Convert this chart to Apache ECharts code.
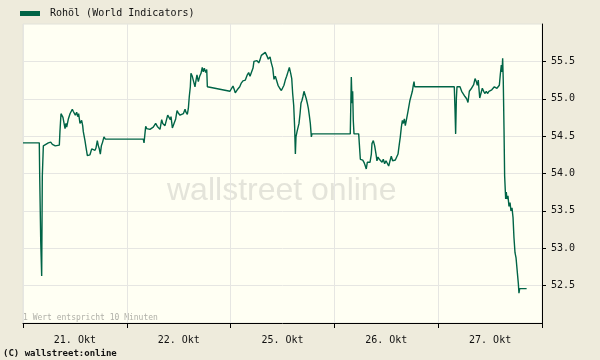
<!DOCTYPE html>
<html>
<head>
<meta charset="utf-8">
<script src="https://cdn.jsdelivr.net/npm/echarts@6/dist/echarts.min.js"></script>
<style>
html,body{margin:0;padding:0;background:#EEEBDC;}
#chart{width:600px;height:360px;}
</style>
</head>
<body>
<div id="chart"></div>
<script>
// Trading days (x-axis labels)
var days = ['21. Okt', '22. Okt', '25. Okt', '26. Okt', '27. Okt'];
// Y-axis tick labels
var yTicks = [52.5, 53.0, 53.5, 54.0, 54.5, 55.0, 55.5];
// Time position in trading days (0 = start of 21. Okt, 1 = start of 22. Okt, ...)
var times = [
 0.000,0.157,0.161,0.170,0.171,0.177,0.180,0.186,0.196,0.212,0.244,0.267,0.283,0.292,0.311,0.350,
 0.356,0.366,0.376,0.385,0.392,0.405,0.414,0.421,0.437,0.453,0.475,0.485,0.504,0.517,0.527,0.536,
 0.549,0.565,0.575,0.581,0.597,0.607,0.620,0.645,0.662,0.678,0.694,0.703,0.716,0.726,0.735,0.745,
 0.755,0.767,0.780,0.793,
 1.159,1.166,1.182,1.192,1.223,1.255,1.278,1.294,1.307,1.320,1.336,1.346,1.358,1.368,1.381,1.394,
 1.407,1.419,1.426,1.439,1.458,1.471,1.484,1.496,1.513,1.529,1.545,1.561,1.570,1.583,1.593,1.602,
 1.612,1.618,1.631,1.644,1.657,1.667,1.676,1.689,1.702,1.715,1.727,1.737,1.747,1.760,1.770,1.776,
 1.994,2.010,2.023,2.036,2.045,2.064,2.088,2.103,2.119,2.142,2.161,2.174,2.187,2.199,2.216,2.225,
 2.242,2.254,2.271,2.283,2.296,2.315,2.334,2.351,2.363,2.380,2.392,2.406,2.418,2.431,2.444,2.457,
 2.473,2.489,2.502,2.514,2.527,2.540,2.553,2.566,2.579,2.589,2.598,2.608,2.617,2.624,2.630,2.640,
 2.649,2.659,2.669,2.678,2.688,2.697,2.707,2.720,2.729,2.739,2.749,2.758,2.768,2.778,2.784,
 3.153,3.163,3.170,3.176,3.182,3.189,3.234,3.240,3.250,3.273,3.285,3.298,3.307,3.317,3.330,3.343,
 3.356,3.362,3.375,3.388,3.401,3.410,3.420,3.433,3.446,3.459,3.471,3.484,3.497,3.510,3.523,3.536,
 3.548,3.561,3.574,3.587,3.603,3.613,3.626,3.635,3.645,3.655,3.664,3.674,3.683,3.693,3.703,3.709,
 3.719,3.728,3.741,3.751,3.760,3.767,3.773,
 4.155,4.162,4.168,4.175,4.181,4.210,4.226,4.242,4.258,4.274,4.287,4.300,4.316,4.329,4.342,4.355,
 4.367,4.377,4.386,4.400,4.412,4.425,4.438,4.451,4.463,4.477,4.489,4.502,4.516,4.531,4.541,4.554,
 4.566,4.579,4.589,4.598,4.608,4.615,4.621,4.627,4.634,4.640,4.650,4.656,4.662,4.672,4.682,4.692,
 4.701,4.711,4.721,4.730,4.740,4.750,4.759,4.766,4.772,4.778,4.785,4.852
];
// Rohöl price (USD)
var prices = [
 54.41,54.41,53.96,53.96,53.08,53.08,52.63,53.96,54.37,54.38,54.41,54.42,54.39,54.41,54.37,54.38,
 54.56,54.80,54.78,54.75,54.73,54.60,54.67,54.62,54.73,54.80,54.86,54.83,54.78,54.82,54.76,54.80,
 54.67,54.71,54.64,54.56,54.44,54.35,54.24,54.25,54.33,54.31,54.31,54.34,54.44,54.37,54.33,54.26,
 54.37,54.42,54.49,54.46,
 54.46,54.41,54.63,54.60,54.59,54.62,54.67,54.63,54.62,54.59,54.72,54.67,54.69,54.64,54.71,54.78,
 54.80,54.72,54.76,54.61,54.62,54.73,54.84,54.81,54.78,54.76,54.80,54.86,54.82,54.79,54.87,55.03,
 55.16,55.34,55.30,55.23,55.16,55.25,55.32,55.23,55.30,55.34,55.42,55.36,55.41,55.35,55.39,55.16,
 55.10,55.14,55.17,55.12,55.08,55.12,55.16,55.21,55.24,55.25,55.32,55.35,55.30,55.32,55.41,55.50,
 55.48,55.51,55.48,55.52,55.58,55.59,55.62,55.57,55.53,55.56,55.48,55.41,55.26,55.30,55.24,55.18,
 55.14,55.11,55.10,55.18,55.25,55.30,55.36,55.42,55.34,55.27,55.07,54.91,54.62,54.26,54.49,54.56,
 54.58,54.67,54.80,54.94,54.98,55.03,55.10,55.10,55.00,54.94,54.87,54.78,54.67,54.49,54.53,
 54.53,55.29,54.94,55.10,54.71,54.53,54.53,54.40,54.19,54.18,54.15,54.10,54.06,54.15,54.13,54.15,
 54.26,54.40,54.44,54.37,54.26,54.17,54.22,54.19,54.18,54.15,54.19,54.13,54.17,54.15,54.10,54.17,
 54.23,54.17,54.19,54.18,54.18,54.26,54.40,54.49,54.62,54.71,54.67,54.73,54.64,54.71,54.69,54.83,
 54.85,54.98,55.00,55.10,55.18,55.23,55.16,
 55.16,54.85,54.53,55.00,55.16,55.16,55.10,55.10,55.03,55.00,54.95,55.10,55.13,55.15,55.19,55.27,
 55.23,55.18,55.25,55.01,55.03,55.14,55.10,55.07,55.10,55.07,55.10,55.10,55.12,55.10,55.16,55.18,
 55.14,55.12,55.18,55.32,55.45,55.36,55.54,55.23,54.60,53.97,53.66,53.75,53.66,53.70,53.56,53.61,
 53.50,53.54,53.41,53.14,52.94,52.87,52.89,52.62,52.53,52.40,52.46,52.46
];
var seriesName = 'Rohöl (World Indicators)';
var yMin = 52.0, yMax = 56.0, yStep = 0.5;

var lineData = times.map(function (t, i) { return [t, prices[i]]; });
var mono = '"DejaVu Sans Mono", "Liberation Mono", monospace';
var lineColor = '#006446';

var chart = echarts.init(document.getElementById('chart'), null, {renderer: 'canvas'});
chart.setOption({
  animation: false,
  backgroundColor: '#EEEBDC',
  grid: {
    left: 23, right: 58, top: 24, bottom: 37,
    show: true, backgroundColor: '#FFFFF3', borderColor: '#E2E2DA', borderWidth: 1
  },
  graphic: [
    {type: 'rect', left: 20, top: 11, shape: {width: 20, height: 5}, style: {fill: lineColor}},
    {type: 'text', left: 50, top: 8, style: {text: seriesName, font: '10px ' + mono, fill: '#111'}},
    {type: 'text', left: 23, top: 314, style: {text: '1 Wert entspricht 10 Minuten', font: '8px ' + mono, fill: '#B0B0A8'}},
    {type: 'text', left: 3, top: 349, style: {text: '(C) wallstreet:online', font: 'bold 9px ' + mono, fill: '#111'}},
    {type: 'text', left: 167, top: 175, z: 0, style: {text: 'wallstreet online', font: '32px "Liberation Sans", Arial, sans-serif', fill: '#E4E4DA'}}
  ],
  xAxis: [
    {
      type: 'value', min: 0, max: days.length, interval: 1,
      position: 'bottom',
      axisLine: {show: true, onZero: false, lineStyle: {color: '#000', width: 1}},
      axisTick: {show: true, length: 5, lineStyle: {color: '#000'}},
      axisLabel: {show: false},
      splitLine: {show: true, lineStyle: {color: '#E6E6E2', width: 1}}
    },
    {
      type: 'category', data: days, position: 'bottom', boundaryGap: true,
      axisLine: {show: false, onZero: false}, axisTick: {show: false},
      axisLabel: {margin: 12, fontFamily: mono, fontSize: 10, color: '#111'},
      splitLine: {show: false}
    }
  ],
  yAxis: {
    type: 'value', position: 'right', min: yMin, max: yMax, interval: yStep,
    axisLine: {show: true, onZero: false, lineStyle: {color: '#000', width: 1}},
    axisTick: {show: true, length: 4, customValues: yTicks, lineStyle: {color: '#000'}},
    axisLabel: {
      margin: 9, fontFamily: mono, fontSize: 10, color: '#111', customValues: yTicks,
      formatter: function (v) { return Number(v).toFixed(1); }
    },
    splitLine: {show: true, lineStyle: {color: '#E6E6E2', width: 1}}
  },
  series: [{
    name: seriesName, type: 'line', xAxisIndex: 0, data: lineData,
    showSymbol: false, symbol: 'none', z: 5,
    lineStyle: {color: lineColor, width: 1.4}
  }]
});
</script>
</body>
</html>
